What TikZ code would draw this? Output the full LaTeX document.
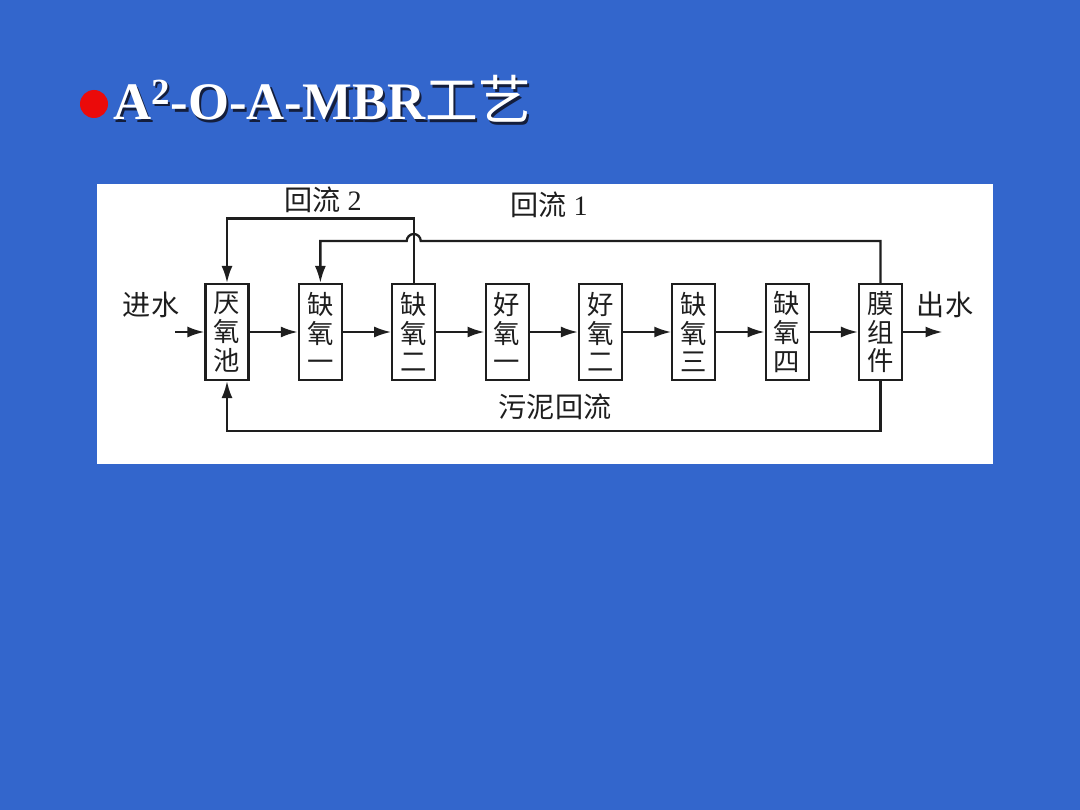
\documentclass[tikz,border=0pt]{standalone}
\usepackage{fontspec}
\setmainfont{Liberation Serif}
\newfontfamily\cjk{Noto Sans CJK SC}
\usetikzlibrary{arrows.meta, positioning, calc}
\definecolor{slideblue}{RGB}{51,102,204}
\definecolor{bulletred}{RGB}{235,10,10}
\definecolor{inkgray}{RGB}{30,30,30}
\definecolor{shadowgray}{RGB}{20,30,60}
\tikzset{
  tank/.style={rectangle, draw=inkgray, fill=white, line width=1.2pt,
    minimum width=8.6mm, minimum height=19.2mm, inner sep=0pt,
    font=\cjk\fontsize{15pt}{16.4pt}\selectfont, text=inkgray, align=center},
  arrow/.style={-{Latex[length=3.4mm,width=2.2mm]}, line width=1.3pt, inkgray},
  lbl/.style={font=\fontsize{16pt}{18pt}\selectfont, text=inkgray, inner sep=0pt},
  ttl/.style={font=\bfseries\fontsize{30pt}{34pt}\selectfont, anchor=base west, inner sep=0pt}
}
\begin{document}
\begin{tikzpicture}[node distance=9.65mm]
  % slide and panel
  \fill[slideblue] (0,0) rectangle (21.6,-16.2);
  \fill[white] (1.94,-3.68) rectangle (19.86,-9.28);

  % title
  \node[circle, fill=bulletred, minimum size=5.6mm, inner sep=0pt] (dot) at (1.88,-2.08) {};
  \node[ttl, text=shadowgray] (ttlshadow) at (2.31,-2.45) {A\textsuperscript{2}-O-A-MBR{\cjk\mdseries 工艺}};
  \node[ttl, text=white] (ttl) at (2.26,-2.40) {A\textsuperscript{2}-O-A-MBR{\cjk\mdseries 工艺}};

  % tanks
  \node[tank] (ana) at (4.54,-6.64) {厌\\氧\\池};
  \node[tank, right=of ana] (ax1) {缺\\氧\\一};
  \node[tank, right=of ax1] (ax2) {缺\\氧\\二};
  \node[tank, right=of ax2] (ox1) {好\\氧\\一};
  \node[tank, right=of ox1] (ox2) {好\\氧\\二};
  \node[tank, right=of ox2] (ax3) {缺\\氧\\三};
  \node[tank, right=of ax3] (ax4) {缺\\氧\\四};
  \node[tank, right=of ax4] (mbr) {膜\\组\\件};

  % labels
  \node[lbl] (inlbl) at (3.02,-6.1) {\cjk 进水};
  \node[lbl] (outlbl) at (18.9,-6.1) {\cjk 出水};
  \node[lbl] (r2lbl) at (6.46,-4.0) {{\cjk 回流}~2};
  \node[lbl] (r1lbl) at (10.98,-4.1) {{\cjk 回流}~1};
  \node[lbl] (sllbl) at (11.1,-8.14) {\cjk 污泥回流};

  % main flow
  \coordinate (inlet) at (3.5,-6.64);
  \coordinate (outlet) at (18.85,-6.64);
  \draw[arrow] (inlet) -- (ana);
  \foreach \a/\b in {ana/ax1, ax1/ax2, ax2/ox1, ox1/ox2, ox2/ax3, ax3/ax4, ax4/mbr}
    \draw[arrow] (\a) -- (\b);
  \draw[arrow] (mbr) -- (outlet);

  % return 2
  \coordinate (r2) at (0,-4.37);
  \draw[arrow] (ax2.north) -- (ax2.north |- r2) -| (ana.north);

  % return 1 (hops over return 2)
  \coordinate (hop) at ($(ax2.north |- 0,-4.82)+(0.14,0)$);
  \draw[arrow] (mbr.north) |- (hop) arc[start angle=0, end angle=180, radius=0.14] -| (ax1.north);

  % sludge return
  \coordinate (sl) at (ana.south |- 0,-8.62);
  \draw[arrow] (mbr.south) |- (sl) -- (ana.south);
\end{tikzpicture}
\end{document}
